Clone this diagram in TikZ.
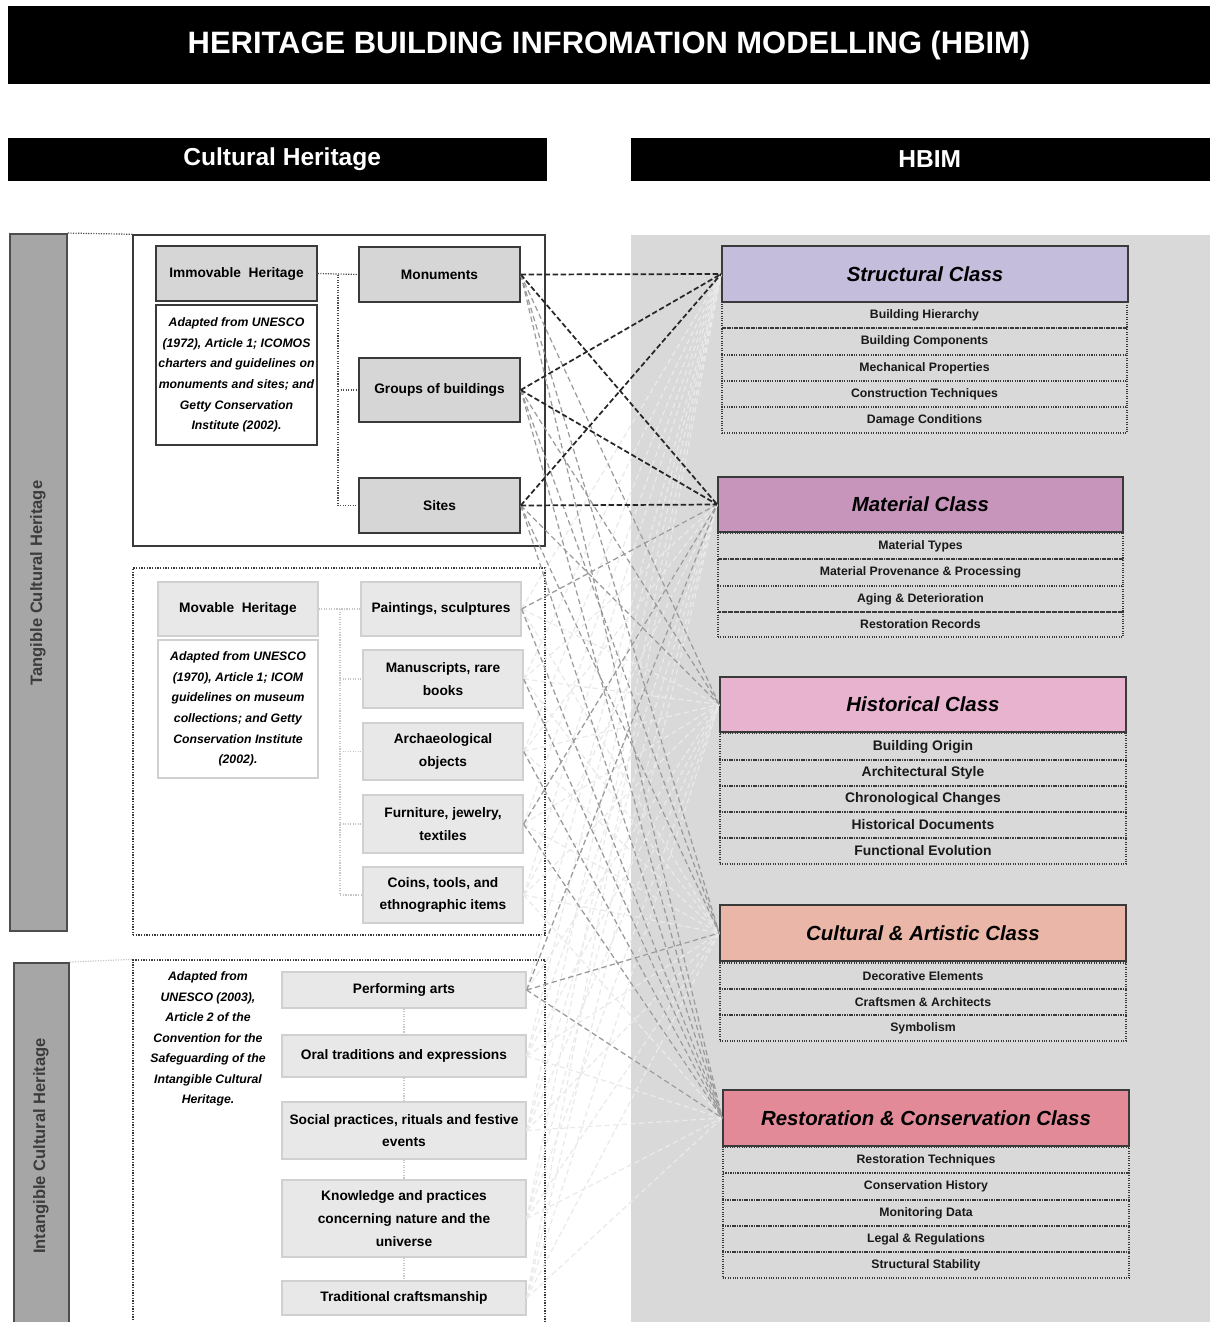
\documentclass[tikz,border=0pt]{standalone}
\usepackage{fontspec}
\setmainfont{Liberation Sans}
\usetikzlibrary{calc}
\definecolor{bgpanel}{HTML}{D9D9D9}
\definecolor{barfill}{HTML}{A6A6A6}
\definecolor{bardraw}{HTML}{4D4D4D}
\definecolor{boxdark}{HTML}{D6D6D6}
\definecolor{boxlight}{HTML}{E8E8E8}
\definecolor{boxlightline}{HTML}{D0D0D0}
\definecolor{edgedark}{HTML}{3A3A3A}
\definecolor{cstruct}{HTML}{C4BDDC}
\definecolor{cmat}{HTML}{C795BC}
\definecolor{chist}{HTML}{E8B3CF}
\definecolor{ccult}{HTML}{E9B6A8}
\definecolor{crest}{HTML}{E38A99}
\definecolor{lnmid}{HTML}{9A9A9A}
\definecolor{lnlight}{HTML}{EAEAEA}
\definecolor{txtgrey}{HTML}{3C3C3C}
\newcommand\mybox[7]{%
  \node[#1, minimum width={(#5-#3)*0.75pt}, minimum height={(#6-#4)*0.75pt}, inner sep=0pt]
    (#2) at ({(#3+#5)/2},{(#4+#6)/2}) {#7};}
\begin{document}
\begin{tikzpicture}[x=0.75pt,y=-0.75pt,
  titlebar/.style={fill=black,text=white,font=\bfseries\fontsize{23.2}{28}\selectfont},
  secbar/.style={fill=black,text=white,font=\bfseries\fontsize{18.4}{22}\selectfont},
  vbar/.style={fill=barfill,draw=bardraw,line width=1.4pt},
  vtext/.style={rotate=90,text=txtgrey,font=\bfseries\fontsize{12.4}{15}\selectfont},
  darkbox/.style={draw=edgedark,line width=1.1pt,fill=boxdark,align=center,font=\bfseries\fontsize{10.3}{17}\selectfont},
  lightbox/.style={draw=boxlightline,line width=0.9pt,fill=boxlight,align=center,font=\bfseries\fontsize{10.3}{17}\selectfont},
  citedark/.style={draw=edgedark,line width=1.1pt,fill=white,align=center,font=\bfseries\itshape\fontsize{9.2}{15.5}\selectfont},
  citelight/.style={draw=boxlightline,line width=0.9pt,fill=white,align=center,font=\bfseries\itshape\fontsize{9.2}{15.5}\selectfont},
  citefree/.style={align=center,font=\bfseries\itshape\fontsize{9.2}{15.4}\selectfont},
  outersolid/.style={draw=edgedark,line width=1.1pt},
  outerdot/.style={draw=edgedark,densely dotted,line width=1pt},
  hdr/.style={draw=edgedark,line width=1.3pt,font=\bfseries\itshape\fontsize{15.3}{18}\selectfont},
  crow/.style={draw=edgedark,densely dotted,line width=0.8pt,text=black!90,font=\bfseries\fontsize{9.2}{11}\selectfont},
  crowbig/.style={crow,font=\bfseries\fontsize{10.4}{12}\selectfont},
  treedark/.style={draw=black!70,densely dotted,line width=0.9pt},
  treelight/.style={draw=black!22,densely dotted,line width=0.9pt},
  lndark/.style={draw=black!85,dash pattern=on 4pt off 2pt,line width=1.3pt},
  lnmed/.style={draw=lnmid,dash pattern=on 4pt off 2.5pt,line width=0.9pt},
  lnlite/.style={draw=lnlight,dash pattern=on 4pt off 2.5pt,line width=0.9pt}]

\useasboundingbox (0,0) rectangle (1210,1322);
\clip (0,0) rectangle (1210,1322);
\fill[white] (0,0) rectangle (1210,1322);

% title and section bars
\mybox{titlebar}{title}{8}{6}{1210}{84}{HERITAGE BUILDING INFROMATION MODELLING (HBIM)}
\mybox{secbar}{secch}{8}{138}{547}{181}{\hspace*{7pt}Cultural Heritage}
\mybox{secbar}{sechb}{631}{138}{1210}{181}{\hspace*{14pt}HBIM}

% grey panel
\fill[bgpanel] (631,235) rectangle (1210,1322);

% vertical bars
\mybox{vbar}{tang}{10}{234}{67}{931}{}
\node[vtext] (tangt) at (38,583) {Tangible Cultural Heritage};
\mybox{vbar}{intang}{14}{963}{69}{1340}{}
\node[vtext] (intangt) at (41,1146) {Intangible Cultural Heritage};

% outer frames
\mybox{outersolid}{immo}{133}{235}{545}{546}{}
\mybox{outerdot}{movo}{133}{568}{545}{935}{}
\mybox{outerdot}{into}{133}{960}{545}{1345}{}
\draw[treedark] (tang.north east) -- (immo.north west);
\draw[treelight] (intang.north east) -- (into.north west);

% immovable heritage
\mybox{darkbox}{imm}{156}{246}{317}{301}{Immovable\ \ Heritage}
\mybox{citedark}{immc}{156}{305}{317}{445}{Adapted from UNESCO\\(1972), Article 1; ICOMOS\\charters and guidelines on\\monuments and sites; and\\Getty Conservation\\Institute (2002).}
\mybox{darkbox}{mon}{359}{247}{520}{302}{Monuments}
\mybox{darkbox}{grp}{359}{358}{520}{422}{Groups of buildings}
\mybox{darkbox}{sit}{359}{478}{520}{533}{Sites}
\coordinate (tI) at (338,0);
\draw[treedark] (imm.east) -- (mon.west);
\draw[treedark] (tI |- mon.west) |- (sit.west);
\draw[treedark] (tI |- grp.west) -- (grp.west);

% movable heritage
\mybox{lightbox}{mov}{158}{582}{318}{636}{Movable\ \ Heritage}
\mybox{citelight}{movc}{158}{640}{318}{778}{Adapted from UNESCO\\(1970), Article 1; ICOM\\guidelines on museum\\collections; and Getty\\Conservation Institute\\(2002).}
\mybox{lightbox}{pai}{361}{582}{521}{636}{Paintings, sculptures}
\mybox{lightbox}{man}{363}{650}{523}{708}{Manuscripts, rare\\books}
\mybox{lightbox}{arc}{363}{723}{523}{780}{Archaeological\\objects}
\mybox{lightbox}{fur}{363}{795}{523}{853}{Furniture, jewelry,\\textiles}
\mybox{lightbox}{coi}{363}{867}{523}{923}{Coins, tools, and\\ethnographic items}
\coordinate (tM) at (340,0);
\draw[treelight] (mov.east) -- (pai.west);
\draw[treelight] (tM |- pai.west) |- (coi.west);
\draw[treelight] (tM |- man.west) -- (man.west);
\draw[treelight] (tM |- arc.west) -- (arc.west);
\draw[treelight] (tM |- fur.west) -- (fur.west);

% intangible heritage
\node[citefree] (intc) at (208,1039) {Adapted from\\UNESCO (2003),\\Article 2 of the\\Convention for the\\Safeguarding of the\\Intangible Cultural\\Heritage.};
\mybox{lightbox}{per}{282}{972}{526}{1008}{Performing arts}
\mybox{lightbox}{ora}{282}{1035}{526}{1077}{Oral traditions and expressions}
\mybox{lightbox}{soc}{282}{1102}{526}{1159}{Social practices, rituals and festive\\events}
\mybox{lightbox}{kno}{282}{1180}{526}{1257}{Knowledge and practices\\concerning nature and the\\universe}
\mybox{lightbox}{tra}{282}{1281}{526}{1315}{Traditional craftsmanship}
\draw[treelight] (per.south) -- (ora.north);
\draw[treelight] (ora.south) -- (soc.north);
\draw[treelight] (soc.south) -- (kno.north);
\draw[treelight] (kno.south) -- (tra.north);

% HBIM classes
\mybox{hdr,fill=cstruct}{cS}{722}{246}{1128}{302}{Structural Class}
\mybox{crow}{s1}{722}{302}{1127}{328}{Building Hierarchy}
\mybox{crow}{s2}{722}{328}{1127}{355}{Building Components}
\mybox{crow}{s3}{722}{355}{1127}{381}{Mechanical Properties}
\mybox{crow}{s4}{722}{381}{1127}{407}{Construction Techniques}
\mybox{crow}{s5}{722}{407}{1127}{433}{Damage Conditions}

\mybox{hdr,fill=cmat}{cM}{718}{477}{1123}{532}{Material Class}
\mybox{crow}{m1}{718}{533}{1123}{559}{Material Types}
\mybox{crow}{m2}{718}{559}{1123}{586}{Material Provenance \& Processing}
\mybox{crow}{m3}{718}{586}{1123}{612}{Aging \& Deterioration}
\mybox{crow}{m4}{718}{612}{1123}{637}{Restoration Records}

\mybox{hdr,fill=chist}{cH}{720}{677}{1126}{732}{Historical Class}
\mybox{crowbig}{h1}{720}{733}{1126}{760}{Building Origin}
\mybox{crowbig}{h2}{720}{760}{1126}{786}{Architectural Style}
\mybox{crowbig}{h3}{720}{786}{1126}{812}{Chronological Changes}
\mybox{crowbig}{h4}{720}{812}{1126}{838}{Historical Documents}
\mybox{crowbig}{h5}{720}{838}{1126}{864}{Functional Evolution}

\mybox{hdr,fill=ccult}{cC}{720}{905}{1126}{961}{Cultural \& Artistic Class}
\mybox{crow}{k1}{720}{963}{1126}{989}{Decorative Elements}
\mybox{crow}{k2}{720}{989}{1126}{1015}{Craftsmen \& Architects}
\mybox{crow}{k3}{720}{1015}{1126}{1041}{Symbolism}

\mybox{hdr,fill=crest}{cR}{723}{1090}{1129}{1146}{Restoration \& Conservation Class}
\mybox{crow}{r1}{723}{1147}{1129}{1173}{Restoration Techniques}
\mybox{crow}{r2}{723}{1173}{1129}{1200}{Conservation History}
\mybox{crow}{r3}{723}{1200}{1129}{1226}{Monitoring Data}
\mybox{crow}{r4}{723}{1226}{1129}{1252}{Legal \& Regulations}
\mybox{crow}{r5}{723}{1252}{1129}{1278}{Structural Stability}

% connectors: light
\foreach \a in {pai,man,arc,fur,coi,per,ora,soc,kno,tra}
  \foreach \b in {cS,cM,cH,cC,cR}
    \draw[lnlite] (\a.east) -- (\b.west);
% connectors: medium
\foreach \a in {mon,grp,sit}
  \foreach \b in {cH,cC,cR}
    \draw[lnmed] (\a.east) -- (\b.west);
\foreach \a in {pai,man,arc,fur}
  \draw[lnmed] (\a.east) -- (cR.west);
\draw[lnmed] (pai.east) -- (cM.west);
\draw[lnmed] (fur.east) -- (cM.west);
\draw[lnmed] (per.east) -- (cM.west);
\draw[lnmed] (per.east) -- (cC.west);
\draw[lnmed] (per.east) -- (cR.west);
% connectors: dark
\foreach \a in {mon,grp,sit}
  \foreach \b in {cS,cM}
    \draw[lndark] (\a.east) -- (\b.west);
\end{tikzpicture}
\end{document}
